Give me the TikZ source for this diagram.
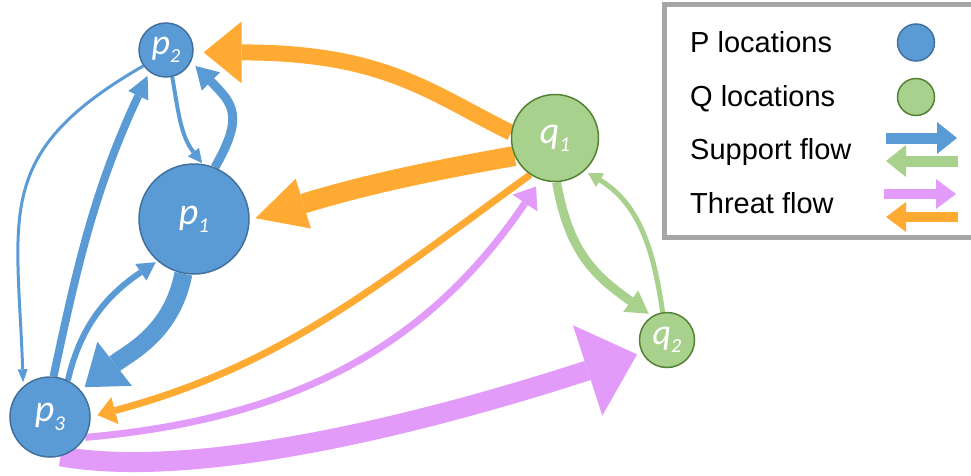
\documentclass[tikz,border=0pt]{standalone}
\usepackage{fontspec}
\setmainfont{Liberation Sans}
\newfontfamily\lblfont{Carlito}
\usetikzlibrary{arrows.meta}
\pgfdeclarelayer{bg}
\pgfsetlayers{bg,main}
\definecolor{pblue}{HTML}{5B9BD5}
\definecolor{pborder}{HTML}{41719C}
\definecolor{qgreen}{HTML}{A9D18E}
\definecolor{qborder}{HTML}{548235}
\definecolor{torange}{HTML}{FFAA33}
\definecolor{tviolet}{HTML}{E39BF9}
\definecolor{boxgray}{HTML}{A6A6A6}
\newcommand{\nlbl}[4]{{\lblfont\fontsize{#1}{#1}\selectfont\itshape #3\raisebox{-0.22em}{\fontsize{#2}{#2}\selectfont #4}}}
\tikzset{
  pnode/.style={circle, draw=pborder, fill=pblue, line width=1.5pt, inner sep=0pt, text=white},
  qnode/.style={circle, draw=qborder, fill=qgreen, line width=1.5pt, inner sep=0pt, text=white},
  arrowhd/.style 2 args={-{Triangle[width=#1,length=#2,line width=0pt]}},
  bflow/.style={draw=pblue, fill=none},
  gflow/.style={draw=qgreen, fill=none},
  oflow/.style={draw=torange, fill=none},
  vflow/.style={draw=tviolet, fill=none},
  legtext/.style={anchor=base west, inner sep=0pt, font=\fontsize{29}{34}\selectfont},
}
\begin{document}
\begin{tikzpicture}[x=1pt,y=1pt]
\useasboundingbox (0,0) rectangle (971,475);
% legend frame
\begin{scope}
\clip (0,0) rectangle (971,475);
\draw[boxgray, line width=5pt] (664.5,238) rectangle (1000,470.5);
\end{scope}
% nodes
\node[pnode, minimum size=110pt] (p1) at (194,256) {\nlbl{38}{21}{p}{1}};
\node[pnode, minimum size=54pt] (p2) at (166,425) {\nlbl{36}{20}{p}{2}};
\node[pnode, minimum size=80pt] (p3) at (50,58) {\nlbl{38}{21}{p}{3}};
\node[qnode, minimum size=87pt] (q1) at (555,337) {\nlbl{38}{21}{q}{1}};
\node[qnode, minimum size=55pt] (q2) at (667,135) {\nlbl{36}{20}{q}{2}};
% legend
\node[legtext] (lp) at (690,422) {P locations};
\node[legtext] (lq) at (690,369) {Q locations};
\node[legtext] (ls) at (690,316) {Support flow};
\node[legtext] (lt) at (690,262) {Threat flow};
\node[pnode, minimum size=37pt] (lpc) at (916,432.5) {};
\node[qnode, minimum size=37pt] (lqc) at (916,378) {};
\coordinate (sb1) at (886,337); \coordinate (sb2) at (957,337);
\coordinate (sg1) at (958,314); \coordinate (sg2) at (886,314);
\coordinate (tv1) at (884,281); \coordinate (tv2) at (956,281);
\coordinate (to1) at (958,258); \coordinate (to2) at (886,258);
\draw[bflow, line width=11pt, arrowhd={32pt}{20pt}] (sb1) -- (sb2);
\draw[gflow, line width=11pt, arrowhd={32pt}{20pt}] (sg1) -- (sg2);
\draw[vflow, line width=10pt, arrowhd={30pt}{20pt}] (tv1) -- (tv2);
\draw[oflow, line width=10pt, arrowhd={30pt}{20pt}] (to1) -- (to2);
% flows
\begin{pgfonlayer}{bg}
% support among P
\draw[bflow, line width=3pt, arrowhd={10pt}{13pt}, shorten >=4pt]
  (p2.215) to[out=210,in=92,looseness=1.3] (p3.131);
\draw[bflow, line width=8pt, arrowhd={22pt}{22pt}, shorten >=4pt]
  (p3.85) to[out=78,in=245] (p2.233);
\draw[bflow, line width=4pt, arrowhd={14pt}{14pt}, shorten >=1pt]
  (p2.283) to[out=280,in=128] (p1.81);
\draw[bflow, line width=9pt, arrowhd={26pt}{22pt}, shorten >=6pt]
  (p1.68) to[out=60,in=315,looseness=1.4] (p2.335);
\draw[bflow, line width=6pt, arrowhd={20pt}{18pt}, shorten >=2pt]
  (p3.64) to[out=77,in=214] (p1.229);
\draw[bflow, line width=18pt, arrowhd={56pt}{38pt}, shorten >=5pt]
  (p1.259) to[out=259,in=38] (p3.41);
% support among Q
\draw[gflow, line width=9pt, arrowhd={26pt}{22pt}, shorten >=4pt]
  (q1.272) to[out=280,in=145,looseness=1.1] (q2.122);
\draw[gflow, line width=5pt, arrowhd={16pt}{14pt}, shorten >=4pt]
  (q2.99) to[out=98,in=329] (q1.312);
% threat Q -> P
\draw[oflow, line width=16pt, arrowhd={62pt}{38pt}, shorten >=10pt]
  (q1.173) to[out=154,in=0,out looseness=0.7,in looseness=1.5] (p2.355);
\draw[oflow, line width=20pt, arrowhd={52pt}{50pt}, shorten >=6pt]
  (q1.204) to[out=190,in=17] (p1.359);
\draw[oflow, line width=7pt, arrowhd={28pt}{18pt}, shorten >=7pt]
  (q1.236) to[out=216,in=15] (p3.0);
% threat P -> Q
\draw[vflow, line width=7pt, arrowhd={30pt}{20pt}, shorten >=8pt]
  (p3.330) to[out=5,in=236] (q1.251);
\draw[vflow, line width=20pt, arrowhd={95pt}{52pt}, shorten >=5pt]
  (p3.285) to[out=-10,in=198,out looseness=0.6] (q2.207);
\end{pgfonlayer}
\end{tikzpicture}
\end{document}
